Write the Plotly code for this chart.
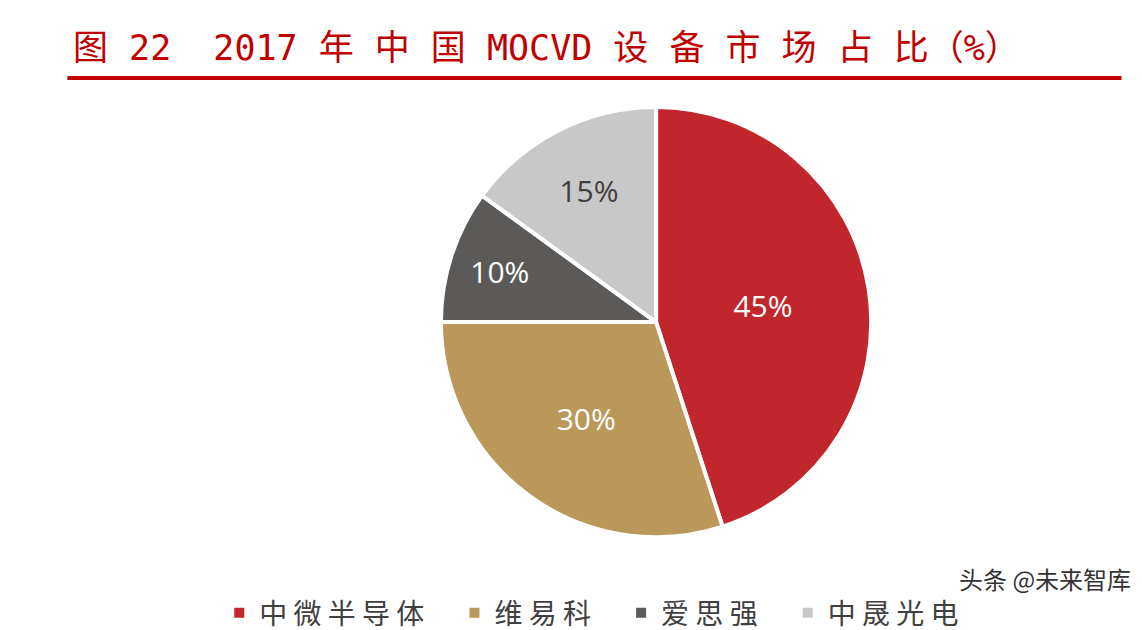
import plotly.graph_objects as go

labels = ["中微半导体", "维易科", "爱思强", "中晟光电"]
values = [45, 30, 10, 15]
colors = ["#C0262B", "#B9985A", "#5B5A58", "#C8C8C8"]
text_colors = ["white", "white", "white", "#404040"]

legend_names = [" ".join(l) + "    " for l in labels]

fig = go.Figure(go.Pie(
    labels=legend_names, values=values, sort=False, direction="clockwise", rotation=0,
    marker=dict(colors=colors, line=dict(color="white", width=4)),
    textinfo="percent", texttemplate="%{percent:.0%}",
    textposition="inside", insidetextorientation="horizontal",
    textfont=dict(size=30, color=text_colors, family="Open Sans"),
    domain=dict(x=[0.379, 0.756], y=[0.16, 0.843]),
    showlegend=True,
))
fig.update_layout(
    width=1142, height=630, margin=dict(l=0, r=0, t=0, b=0),
    paper_bgcolor="white", plot_bgcolor="white",
    legend=dict(orientation="h", x=0.185, y=0.0, xanchor="left", yanchor="bottom",
                font=dict(size=28, color="#404040", family="Noto Sans CJK SC"),
                itemsizing="constant", traceorder="normal"),
    shapes=[dict(type="line", xref="paper", yref="paper", x0=0.052, x1=0.975,
                 y0=1-70/630, y1=1-70/630, line=dict(color="#C00000", width=4))],
    annotations=[
        dict(text="图 22  2017 年 中 国 MOCVD 设 备 市 场 占 比（%）", xref="paper", yref="paper",
             x=0.055, y=1-40/630, xanchor="left", yanchor="middle", showarrow=False,
             font=dict(size=35, color="#C00000", family="DejaVu Sans Mono, Noto Sans CJK SC")),
        dict(text="头条 @未来智库", xref="paper", yref="paper", x=0.985, y=0.095,
             xanchor="right", yanchor="middle", showarrow=False,
             font=dict(size=24, color="#333333", family="Noto Sans CJK SC")),
    ],
)
fig.write_html("out.html")
